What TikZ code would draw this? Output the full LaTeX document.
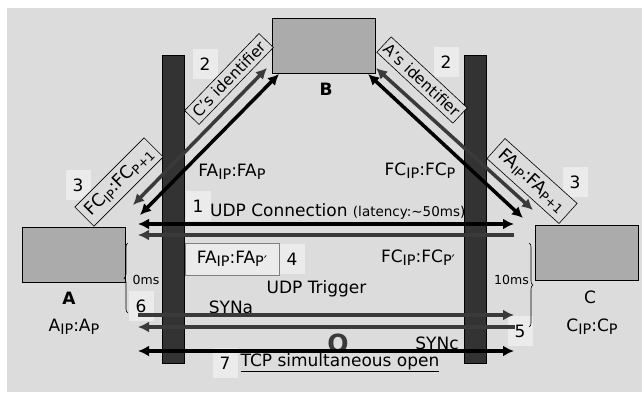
\documentclass[tikz,border=0pt]{standalone}
\usepackage{fontspec}
\setmainfont{DejaVu Sans}
\usepackage{graphicx}
\usetikzlibrary{arrows.meta,decorations.pathreplacing}

\definecolor{bggray}{HTML}{DCDCDC}
\definecolor{numbg}{HTML}{EBEBEB}
\definecolor{hostgray}{HTML}{ABABAB}
\definecolor{wallgray}{HTML}{333333}
\definecolor{linegray}{HTML}{3A3A3A}

\newcommand{\lo}[2][0.85]{\raisebox{-0.35ex}{\scalebox{#1}{#2}}}

\tikzset{
  host/.style={draw, fill=hostgray, line width=0.8pt, minimum width=103pt, minimum height=55pt},
  wall/.style={draw, fill=wallgray, line width=0.6pt, minimum width=22pt, minimum height=308pt},
  lbl/.style={font=\fontsize{17}{20}\selectfont},
  small/.style={font=\fontsize{12.5}{15}\selectfont},
  num/.style={fill=numbg, inner sep=0pt, minimum width=25pt, minimum height=30pt, font=\fontsize{17}{20}\selectfont},
  tag/.style={draw, fill=bggray, line width=0.6pt, inner sep=1pt, font=\fontsize{15.5}{18}\selectfont},
  blk/.style={line width=3.5pt, black},
  gry/.style={line width=3.5pt, linegray},
  brc/.style={decorate, decoration={brace, amplitude=4pt}, line width=0.6pt}
}

\begin{document}
\begin{tikzpicture}[x=1pt, y=-1pt, >={Latex[length=11pt,width=11pt]}]
\useasboundingbox (0,0) rectangle (642,392);
\fill[bggray] (7,8) rectangle (642,392);

% hosts and firewalls
\node[host] (A) at (73.5,254.5) {};
\node[host] (B) at (323.5,45.5) {};
\node[host] (C) at (587,252.5) {};
\node[wall] (wallA) at (173,209) {};
\node[wall] (wallC) at (475.5,209) {};

\node[lbl, font=\fontsize{17}{20}\selectfont\bfseries] (Aname) at (69,298) {A};
\node[lbl] (Aaddr) at (74,327) {A\lo{IP}:A\lo{P}};
\node[lbl, font=\fontsize{17}{20}\selectfont\bfseries] (Bname) at (326,89) {B};
\node[lbl] (Cname) at (590,297) {C};
\node[lbl] (Caddr) at (592,327) {C\lo{IP}:C\lo{P}};

% step numbers
\node[num] (n1) at (198,206) {1};
\node[num] (n2a) at (205,64) {2};
\node[num] (n2c) at (446,62) {2};
\node[num] (n3a) at (78,185) {3};
\node[num] (n3c) at (575,182) {3};
\node[num] (n4) at (292,259) {4};
\node[num] (n5) at (520,331) {5};
\node[num] (n6) at (141,306) {6};
\node[num] (n7) at (225,363) {7};

% tags on the diagonals
\node[tag, rotate=46, minimum width=107pt, minimum height=20pt] (cid) at (229,79) {C's identifier};
\node[tag, rotate=-43, minimum width=104pt, minimum height=21pt] (aid) at (422,80) {A's identifier};
\node[tag, rotate=45, minimum width=98pt, minimum height=27pt, font=\fontsize{17.5}{20}\selectfont] (fcnext) at (119,182) {FC\lo[0.72]{IP}:FC\lo[0.72]{P+1}};
\node[tag, rotate=-42, minimum width=97pt, minimum height=27pt, font=\fontsize{17.5}{20}\selectfont] (fanext) at (532,181) {FA\lo[0.72]{IP}:FA\lo[0.72]{P+1}};

% address labels
\node[lbl] (faddr) at (232,172) {FA\lo{IP}:FA\lo{P}};
\node[lbl] (fcaddr) at (420,171) {FC\lo{IP}:FC\lo{P}};
\node[lbl, draw=gray, fill=numbg, line width=0.6pt, minimum width=94pt, minimum height=32pt, inner sep=1pt] (fatrig) at (232,259) {FA\lo{IP}:FA\lo{P′}};
\node[lbl] (fctrig) at (418,258) {FC\lo{IP}:FC\lo{P′}};

\node[lbl, anchor=base west, inner sep=0pt] (udpconn) at (210,216) {UDP Connection {\fontsize{13.5}{15}\selectfont(latency:\textasciitilde50ms)}};
\node[lbl] (udptrig) at (316.5,289) {UDP Trigger};
\node[lbl] (syna) at (231,307) {SYNa};
\node[lbl] (sync) at (437,343) {SYNc};
\node[font=\fontsize{25}{28}\selectfont\bfseries, text=linegray] (open) at (338,343) {O};
\node[lbl] (tcp) at (340,363) {\underline{TCP simultaneous open}};
\node[small] (zero) at (146,280) {0ms};
\node[small] (ten) at (511.5,280) {10ms};

% braces
\draw[brc] (128,313) -- (128,243);
\draw[brc] (529,243) -- (529,327);

% end points
\coordinate (a1) at (138,224);  \coordinate (c1) at (514,224);
\coordinate (a2) at (138,235);  \coordinate (c2) at (514,235);
\coordinate (a6) at (138,315);  \coordinate (c6) at (514,315);
\coordinate (a5) at (138,327);  \coordinate (c5) at (515,327);
\coordinate (a7) at (138,351);  \coordinate (c7) at (514,351);
\coordinate (aG) at (133,205);  \coordinate (bGa) at (267,68);
\coordinate (aK) at (140,215);  \coordinate (bKa) at (279,74);
\coordinate (cG) at (533,210);  \coordinate (bGc) at (376,68);
\coordinate (cK) at (523,218);  \coordinate (bKc) at (368,74);

% connections
\draw[gry, <->] (aG) -- (bGa);
\draw[blk, <->] (aK) -- (bKa);
\draw[gry, <->] (cG) -- (bGc);
\draw[blk, <->] (cK) -- (bKc);
\draw[blk, <->] (a1) -- (c1);
\draw[gry, <-] (a2) -- (c2);
\draw[gry, ->] (a6) -- (c6);
\draw[gry, <-] (a5) -- (c5);
\draw[blk, <->] (a7) -- (c7);
\end{tikzpicture}
\end{document}
